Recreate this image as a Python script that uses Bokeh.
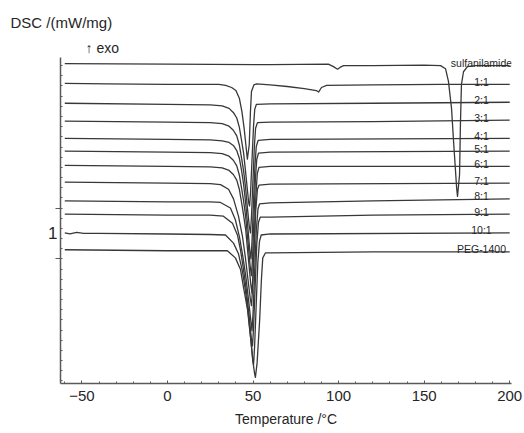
from bokeh.plotting import figure
from bokeh.models import Range1d, FixedTicker, LinearAxis, Title
from bokeh.core.properties import value
from bokeh.embed import file_html
from bokeh.resources import INLINE

# ---- data (temperature in °C, DSC signal in mW/mg, curves shifted vertically) ----
labels = ["sulfanilamide", "1:1", "2:1", "3:1", "4:1", "5:1", "6:1", "7:1", "8:1", "9:1", "10:1", "PEG-1400"]
shifts = [3.84, 3.45, 3.06, 2.71, 2.37, 2.12, 1.84, 1.51, 1.14, 0.88, 0.51, 0.18]

t_sulf = [-60, 0, 60, 94, 97, 99.4, 101, 103, 120, 150, 159.6, 162.5, 164.2, 166, 167.2, 169, 169.5, 170.7, 171.2, 171.8, 173, 175.3, 180, 200]
s_sulf = [0, -0.01, -0.02, -0.01, -0.06, -0.11, -0.07, -0.04, -0.04, -0.03, -0.04, -0.10, -0.35, -0.88, -1.53, -2.45, -2.61, -2.18, -1.20, -0.41, -0.16, -0.06, -0.04, -0.04]

t_11 = [-60, -35, 0, 20, 30, 34, 37.5, 40, 42, 43.5, 44.8, 45.8, 46.7, 47.8, 48.5, 49.1, 50.5, 52, 60, 70, 80, 87, 88.3, 90, 93, 120, 160, 200]
s_11 = [0, -0.01, -0.02, -0.02, -0.02, -0.04, -0.08, -0.14, -0.29, -0.55, -0.88, -1.20, -1.49, -1.20, -0.55, -0.16, -0.03, -0.01, -0.03, -0.06, -0.10, -0.14, -0.17, -0.08, -0.04, -0.03, -0.02, -0.02]

t_21 = [-60, 0, 25, 32, 36, 38.5, 40.5, 42, 43.3, 44.5, 45.6, 46.8, 47.5, 48.0, 48.6, 49.4, 50.3, 51.0, 52.0, 60, 120, 200]
s_21 = [0, -0.02, -0.03, -0.05, -0.10, -0.18, -0.29, -0.47, -0.73, -0.98, -1.33, -1.73, -1.96, -2.02, -1.73, -1.12, -0.45, -0.12, -0.02, -0.01, 0, 0.02]

t_31 = [-60, 0, 25, 32, 36, 38.5, 40.5, 42, 43.3, 44.5, 45.6, 46.8, 47.8, 48.5, 49.1, 49.9, 50.8, 51.5, 52.6, 60, 120, 200]
s_31 = [0, -0.02, -0.03, -0.05, -0.10, -0.18, -0.29, -0.47, -0.73, -0.98, -1.29, -1.73, -2.06, -2.20, -1.88, -1.22, -0.49, -0.14, -0.03, -0.02, -0.01, 0.02]

t_41 = [-60, 0, 25, 32, 36, 38.5, 40.5, 42, 43.3, 44.5, 45.7, 47.0, 48.1, 48.8, 49.4, 50.2, 51.1, 51.9, 53.0, 60, 200]
s_41 = [0, -0.02, -0.03, -0.05, -0.08, -0.14, -0.24, -0.39, -0.63, -0.90, -1.27, -1.76, -2.20, -2.37, -2.04, -1.33, -0.55, -0.16, -0.04, -0.02, 0]

t_51 = [-60, 0, 25, 32, 36, 38.5, 40.5, 42, 43.3, 44.5, 45.7, 47.0, 48.3, 49.1, 49.7, 50.5, 51.4, 52.2, 53.2, 60, 200]
s_51 = [0, -0.02, -0.03, -0.05, -0.10, -0.18, -0.29, -0.47, -0.73, -0.98, -1.29, -1.76, -2.25, -2.45, -2.12, -1.37, -0.55, -0.16, -0.04, -0.02, 0]

t_61 = [-60, 0, 25, 32, 36, 38.5, 40.5, 42, 43.3, 44.5, 45.8, 47.2, 48.6, 49.4, 50.0, 50.8, 51.7, 52.5, 53.5, 60, 200]
s_61 = [0, -0.02, -0.03, -0.05, -0.10, -0.18, -0.29, -0.47, -0.73, -0.98, -1.29, -1.80, -2.31, -2.51, -2.16, -1.41, -0.59, -0.16, -0.04, -0.02, -0.02]

t_71 = [-60, 0, 25, 31, 35.7, 38.6, 41.5, 43.8, 45.5, 47.0, 48.4, 49.1, 49.7, 50.6, 51.6, 52.6, 53.5, 60, 200]
s_71 = [0, -0.02, -0.03, -0.05, -0.14, -0.33, -0.67, -1.06, -1.47, -1.90, -2.29, -2.43, -2.12, -1.37, -0.55, -0.14, -0.06, -0.04, -0.02]

t_81 = [-60, 0, 25, 31, 36.8, 39.7, 42.1, 44.0, 45.8, 47.3, 48.7, 49.4, 50.0, 50.9, 51.9, 52.9, 53.8, 60, 120, 200]
s_81 = [0, -0.02, -0.02, -0.03, -0.14, -0.37, -0.71, -1.08, -1.49, -1.92, -2.35, -2.55, -2.22, -1.43, -0.59, -0.16, -0.06, -0.04, 0, 0.04]

t_91 = [-60, 0, 25, 32.7, 38.0, 40.9, 42.7, 44.5, 46.2, 47.7, 49.0, 49.7, 50.3, 51.2, 52.2, 53.2, 54.2, 60, 120, 200]
s_91 = [0, -0.02, -0.02, -0.04, -0.18, -0.41, -0.71, -1.10, -1.53, -2.00, -2.43, -2.59, -2.25, -1.47, -0.59, -0.16, -0.06, -0.06, -0.02, 0]

t_101 = [-60, -57, -53, -49, -40, 0, 25, 33.9, 38.6, 41.5, 43.8, 45.6, 47.3, 48.8, 49.8, 50.3, 50.9, 51.8, 52.8, 53.8, 54.8, 60, 200]
s_101 = [0, -0.02, 0.01, -0.01, -0.01, -0.02, -0.03, -0.04, -0.20, -0.41, -0.75, -1.14, -1.61, -2.12, -2.49, -2.59, -2.25, -1.47, -0.59, -0.16, -0.04, -0.02, 0]

t_peg = [-60, 0, 25, 35, 39.7, 42.7, 44.4, 46.8, 48.5, 50.3, 51.0, 51.4, 52.4, 53.9, 54.9, 55.7, 57.3, 60, 120, 200]
s_peg = [0, -0.02, -0.02, -0.02, -0.16, -0.39, -0.73, -1.18, -1.71, -2.29, -2.45, -2.51, -2.22, -1.37, -0.59, -0.16, -0.06, -0.06, -0.04, -0.04]

temps = [t_sulf, t_11, t_21, t_31, t_41, t_51, t_61, t_71, t_81, t_91, t_101, t_peg]
signals = [s_sulf, s_11, s_21, s_31, s_41, s_51, s_61, s_71, s_81, s_91, s_101, s_peg]

x_ticks = [-50, 0, 50, 100, 150, 200]
x_minor = list(range(-60, 201, 10))
y_ticks = [0, 1]
y_minor = [round(-2.4 + 0.2 * i, 1) for i in range(32)]
scale_tick = 0.5
scale_text = "1"

FONT = "Liberation Sans"
TXT = "#262626"
LINE = "#383838"
AXIS = "#5a5a5a"

p = figure(width=524, height=433, output_backend="svg", toolbar_location=None,
           x_range=Range1d(-62.5, 201.05), y_range=Range1d(-2.45, 3.96),
           min_border_left=60, min_border_right=13, min_border_top=56, min_border_bottom=50)
p.outline_line_color = None
p.xgrid.visible = False
p.ygrid.visible = False
p.title.visible = False

for t, s, sh in zip(temps, signals, shifts):
    p.line(t, [sh + v for v in s], line_color=LINE, line_width=1.3, line_join="round")

# curve labels at the right end
lab_x = [183.5] * len(labels)
lab_y = [sh + s[-1] for s, sh in zip(signals, shifts)]
p.text(lab_x, lab_y, text=labels, text_align="center", text_baseline="alphabetic",
       y_offset=-2.5, text_font=value(FONT), text_font_size="10.5px", text_color=TXT)

# x axis
xa = p.xaxis[0]
xa.ticker = FixedTicker(ticks=x_ticks, minor_ticks=x_minor)
xa.major_tick_in = 3
xa.major_tick_out = 0
xa.minor_tick_in = 2
xa.minor_tick_out = 0
xa.axis_line_color = AXIS
xa.axis_line_width = 1.5
xa.major_tick_line_color = AXIS
xa.minor_tick_line_color = AXIS
xa.major_label_text_font = FONT
xa.major_label_text_font_size = "15px"
xa.major_label_text_color = TXT
xa.major_label_standoff = 7
xa.axis_label = "Temperature /\u00b0C"
xa.axis_label_text_font = FONT
xa.axis_label_text_font_size = "14px"
xa.axis_label_text_font_style = "normal"
xa.axis_label_text_color = TXT
xa.axis_label_standoff = 7

# y axis (ticks only)
ya = p.yaxis[0]
ya.ticker = FixedTicker(ticks=y_ticks, minor_ticks=y_minor)
ya.major_tick_in = 0
ya.major_tick_out = 5
ya.minor_tick_in = 2
ya.minor_tick_out = 0
ya.axis_line_color = AXIS
ya.axis_line_width = 1.5
ya.major_tick_line_color = AXIS
ya.minor_tick_line_color = AXIS
ya.major_label_overrides = {0: "", 1: ""}
ya.major_label_text_font_size = "0px"
ya.major_label_standoff = 0

# scale bar label "1" between the two major ticks
sa = LinearAxis(ticker=FixedTicker(ticks=[scale_tick], minor_ticks=[]),
                major_label_overrides={scale_tick: scale_text},
                axis_line_color=None, major_tick_line_color=None, minor_tick_line_color=None,
                major_tick_in=0, major_tick_out=0, major_label_standoff=-2,
                major_label_text_font=FONT, major_label_text_font_size="17px",
                major_label_text_color=TXT)
p.add_layout(sa, "left")

# titles above the frame (added from the frame outwards)
p.add_layout(Title(text="\u2191 exo", align="left", offset=25, standoff=4,
                   text_font=FONT, text_font_size="14px", text_font_style="normal",
                   text_color=TXT), "above")
p.add_layout(Title(text="DSC /(mW/mg)", align="left", offset=-50, standoff=9,
                   text_font=FONT, text_font_size="15px", text_font_style="normal",
                   text_color=TXT), "above")
p.add_layout(Title(text=" ", standoff=3, text_font=FONT, text_font_size="2px"), "above")

open("out.html", "w").write(file_html(p, INLINE))
